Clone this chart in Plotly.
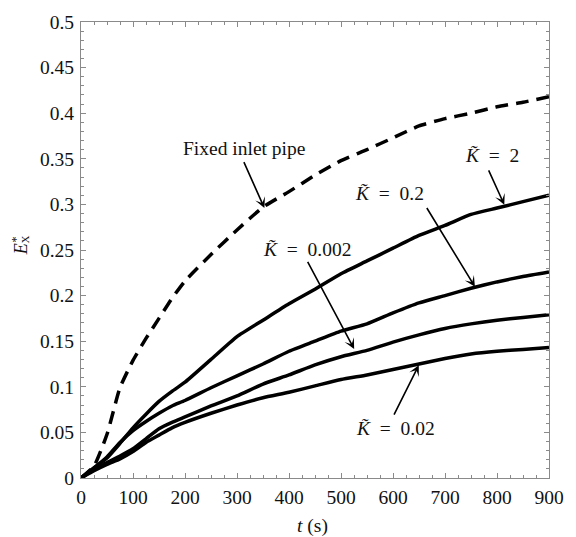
import plotly.graph_objects as go

# time samples (s)
t = [0, 25, 50, 75, 100, 125, 150, 175, 200, 250, 300, 350, 400, 450, 500,
     550, 600, 650, 700, 750, 800, 850, 900]

# fixed inlet pipe (dashed reference)
e_fixed = [0, 0.013, 0.048, 0.099, 0.129, 0.153, 0.175, 0.197, 0.216, 0.245,
           0.272, 0.297, 0.314, 0.332, 0.348, 0.360, 0.373, 0.386, 0.394,
           0.400, 0.407, 0.412, 0.418]

# flexible inlet, various stiffness values
e_k2 = [0, 0.011, 0.022, 0.038, 0.055, 0.070, 0.084, 0.095, 0.105, 0.130,
        0.155, 0.173, 0.191, 0.207, 0.224, 0.238, 0.252, 0.266, 0.277,
        0.289, 0.296, 0.303, 0.310]
e_k02 = [0, 0.011, 0.023, 0.039, 0.052, 0.062, 0.071, 0.079, 0.085, 0.099,
         0.112, 0.125, 0.139, 0.150, 0.161, 0.169, 0.181, 0.192, 0.200,
         0.208, 0.215, 0.221, 0.226]
e_k0002 = [0, 0.009, 0.017, 0.024, 0.032, 0.043, 0.054, 0.061, 0.067, 0.079,
           0.090, 0.103, 0.113, 0.124, 0.133, 0.140, 0.149, 0.157, 0.164,
           0.169, 0.173, 0.176, 0.179]
e_k002 = [0, 0.008, 0.015, 0.021, 0.029, 0.039, 0.047, 0.055, 0.061, 0.071,
          0.080, 0.088, 0.094, 0.101, 0.108, 0.113, 0.119, 0.125, 0.131,
          0.136, 0.139, 0.141, 0.143]

FONT = "Liberation Serif, Times New Roman, serif"
INK = "#111111"
AXIS = "#8a8a8a"

fig = go.Figure()
fig.add_trace(go.Scatter(x=t, y=e_fixed, mode="lines",
                         line=dict(color="black", width=3.5, dash="13px,8px",
                                   shape="spline", smoothing=0.5)))
for series in (e_k2, e_k02, e_k0002, e_k002):
    fig.add_trace(go.Scatter(x=t, y=series, mode="lines",
                             line=dict(color="black", width=3.5,
                                       shape="spline", smoothing=0.5)))

KT = "<i>K\u0303</i>"

# labels: (text, x, y)
labels = [
    ("Fixed inlet pipe", 312.6, 0.361),
    (KT + "\u2002=\u20022", 790.8, 0.3534),
    (KT + "\u2002=\u20020.2", 593, 0.3125),
    (KT + "\u2002=\u20020.002", 435, 0.251),
    (KT + "\u2002=\u20020.02", 604, 0.0539),
]
# arrows: (tail x, tail y, tip x, tip y)
arrows = [
    (312, 0.348, 352.7, 0.296),
    (782.7, 0.339, 814, 0.2996),
    (663.3, 0.2977, 757.5, 0.2098),
    (434.4, 0.2385, 525.3, 0.1415),
    (600.6, 0.0679, 649.6, 0.1236),
]

annotations = []
for text, x, y in labels:
    annotations.append(dict(x=x, y=y, xref="x", yref="y", text=text,
                            showarrow=False, font=dict(family=FONT, size=19.5, color=INK),
                            xanchor="center", yanchor="middle"))
for x0, y0, x1, y1 in arrows:
    annotations.append(dict(x=x1, y=y1, ax=x0, ay=y0, xref="x", yref="y",
                            axref="x", ayref="y", text="", showarrow=True,
                            arrowhead=3, arrowsize=1.1, arrowwidth=1.6,
                            arrowcolor="black", standoff=0, startstandoff=0))

# axis titles
annotations.append(dict(x=(317 - 81) / 478, y=(478 - 527) / 464, xref="paper", yref="paper",
                        text="<i>t</i> (s)", showarrow=False,
                        font=dict(family=FONT, size=19.5, color=INK),
                        xanchor="center", yanchor="middle"))
annotations.append(dict(x=(20 - 81) / 478, y=(478 - 245) / 464, xref="paper", yref="paper",
                        text="<i>E</i>", showarrow=False, textangle=-90,
                        font=dict(family=FONT, size=18, color=INK),
                        xanchor="center", yanchor="middle"))
annotations.append(dict(x=(15 - 81) / 478, y=(478 - 235) / 464, xref="paper", yref="paper",
                        text="*", showarrow=False, textangle=-90,
                        font=dict(family=FONT, size=12, color=INK),
                        xanchor="center", yanchor="middle"))
annotations.append(dict(x=(24 - 81) / 478, y=(478 - 235) / 464, xref="paper", yref="paper",
                        text="X", showarrow=False, textangle=-90,
                        font=dict(family=FONT, size=11, color=INK),
                        xanchor="center", yanchor="middle"))

axis_common = dict(showline=True, linecolor=AXIS, linewidth=1, mirror="ticks",
                   ticks="inside", ticklen=5, tickcolor=AXIS, tickwidth=1,
                   showgrid=False, zeroline=False,
                   tickfont=dict(family=FONT, size=19.5, color=INK))

fig.update_layout(
    width=576, height=537,
    margin=dict(l=81, r=17, t=14, b=59),
    paper_bgcolor="white", plot_bgcolor="white",
    showlegend=False,
    annotations=annotations,
    xaxis=dict(range=[0, 900], tickmode="array",
               tickvals=[0, 100, 200, 300, 400, 500, 600, 700, 800, 900],
               ticktext=["0", "100", "200", "300", "400", "500", "600", "700", "800", "900"],
               minor=dict(dtick=25, ticks="inside", ticklen=3, tickcolor=AXIS),
               ticklabelstandoff=2, **axis_common),
    yaxis=dict(range=[0, 0.5], tickmode="array",
               tickvals=[0, 0.05, 0.1, 0.15, 0.2, 0.25, 0.3, 0.35, 0.4, 0.45, 0.5],
               ticktext=["0", "0.05", "0.1", "0.15", "0.2", "0.25", "0.3", "0.35", "0.4", "0.45", "0.5"],
               minor=dict(dtick=0.01, ticks="inside", ticklen=3, tickcolor=AXIS),
               ticklabelstandoff=2, **axis_common),
)

fig.write_html("out.html")
